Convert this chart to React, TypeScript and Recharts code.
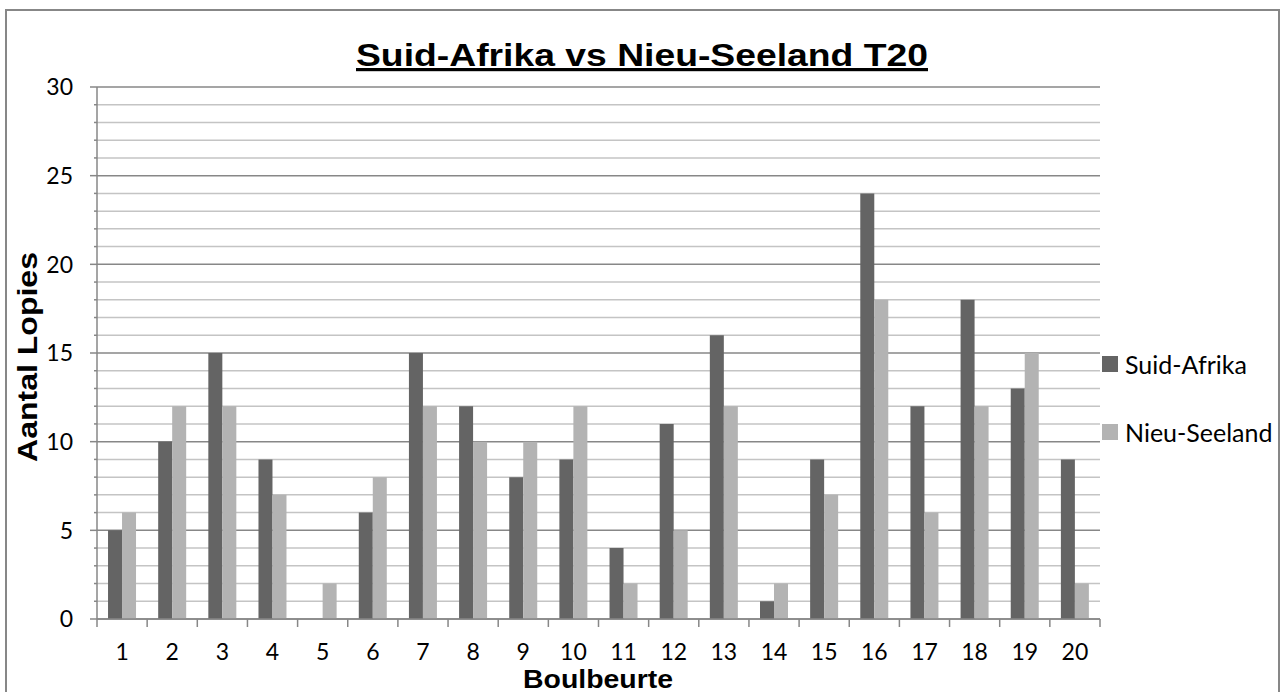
import React from "react";
import { BarChart, Bar, XAxis, YAxis, CartesianGrid } from "recharts";

const OVERS = ["1", "2", "3", "4", "5", "6", "7", "8", "9", "10", "11", "12", "13", "14", "15", "16", "17", "18", "19", "20"];
const SUID_AFRIKA = [5, 10, 15, 9, 0, 6, 15, 12, 8, 9, 4, 11, 16, 1, 9, 24, 12, 18, 13, 9];
const NIEU_SEELAND = [6, 12, 12, 7, 2, 8, 12, 10, 10, 12, 2, 5, 12, 2, 7, 18, 6, 12, 15, 2];
const Y_TICKS = [0, 1, 2, 3, 4, 5, 6, 7, 8, 9, 10, 11, 12, 13, 14, 15, 16, 17, 18, 19, 20, 21, 22, 23, 24, 25, 26, 27, 28, 29, 30];
const MAJOR_STEP = 5;

const SERIES = [
  { key: "sa", name: "Suid-Afrika", color: "#646464" },
  { key: "nz", name: "Nieu-Seeland", color: "#b3b3b3" },
];

const data = OVERS.map((over, i) => ({ over, sa: SUID_AFRIKA[i], nz: NIEU_SEELAND[i] }));

const AXIS = "#878787";
const MINOR = "#c4c4c4";
const boldFont = "'Liberation Sans', Arial, sans-serif";

function GridLine(props: any) {
  const { x1, x2, y1, y2, index } = props;
  const major = index % MAJOR_STEP === 0;
  return <line x1={x1} x2={x2} y1={y1} y2={y2} stroke={major ? AXIS : MINOR} strokeWidth={1.5} />;
}

function YTick(props: any) {
  const { x, y, payload } = props;
  const major = payload.value % MAJOR_STEP === 0;
  return (
    <g>
      <line x1={x - (major ? 7 : 3)} x2={x} y1={y} y2={y} stroke={AXIS} strokeWidth={1.5} />
      {major && (
        <text x={x - 24} y={y} dy="0.36em" textAnchor="end" fontFamily="Lato" fontSize={23} fill="#000">
          {payload.value}
        </text>
      )}
    </g>
  );
}

function XTick(props: any) {
  const { x, y, payload, index } = props;
  const half = payload.offset || 0;
  return (
    <g>
      <line x1={x - half} x2={x - half} y1={y} y2={y + 8} stroke={AXIS} strokeWidth={1.5} />
      {index === OVERS.length - 1 && (
        <line x1={x + half} x2={x + half} y1={y} y2={y + 8} stroke={AXIS} strokeWidth={1.5} />
      )}
      <text x={x} y={y + 41} textAnchor="middle" fontFamily="Lato" fontSize={23} fill="#000">
        {payload.value}
      </text>
    </g>
  );
}

export default function App() {
  return (
    <div style={{ position: "absolute", left: 0, top: 0, width: 1284, height: 692, background: "#fff", overflow: "hidden" }}>
      <div style={{ position: "absolute", left: 5, top: 9, width: 1271, height: 720, border: `2px solid ${AXIS}` }} />
      <BarChart
        width={1284}
        height={692}
        data={data}
        margin={{ top: 87, right: 184, bottom: 33, left: 37 }}
        barCategoryGap="22%"
        barGap={0}
        style={{ position: "absolute", left: 0, top: 0 }}
      >
        <CartesianGrid vertical={false} horizontal={GridLine} />
        <XAxis
          dataKey="over"
          height={40}
          tickSize={0}
          tickMargin={0}
          axisLine={{ stroke: AXIS, strokeWidth: 1.5 }}
          tickLine={false}
          tick={XTick}
          interval={0}
        />
        <YAxis
          domain={[0, 30]}
          ticks={Y_TICKS}
          interval={0}
          width={60}
          tickSize={0}
          tickMargin={0}
          tick={YTick}
          axisLine={{ stroke: AXIS, strokeWidth: 1.5 }}
          tickLine={false}
        />
        {SERIES.map((s) => (
          <Bar key={s.key} dataKey={s.key} name={s.name} fill={s.color} isAnimationActive={false} />
        ))}
      </BarChart>
      <svg width={1284} height={692} style={{ position: "absolute", left: 0, top: 0, pointerEvents: "none" }}>
        <text
          x={642}
          y={66}
          textAnchor="middle"
          fontFamily={boldFont}
          fontWeight="bold"
          fontSize={32}
          textLength={572}
          lengthAdjust="spacingAndGlyphs"
          style={{ textDecoration: "underline" }}
        >
          Suid-Afrika vs Nieu-Seeland T20
        </text>
        <text
          transform="translate(37,357) rotate(-90)"
          textAnchor="middle"
          fontFamily={boldFont}
          fontWeight="bold"
          fontSize={28}
          textLength={210}
          lengthAdjust="spacingAndGlyphs"
        >
          Aantal Lopies
        </text>
        <text
          x={598}
          y={688}
          textAnchor="middle"
          fontFamily={boldFont}
          fontWeight="bold"
          fontSize={25}
          textLength={150}
          lengthAdjust="spacingAndGlyphs"
        >
          Boulbeurte
        </text>
      </svg>
      <div style={{ position: "absolute", left: 1102, top: 345, fontFamily: "Lato", fontSize: 25, color: "#000" }}>
        {SERIES.map((s) => (
          <div key={s.key} style={{ display: "flex", alignItems: "center", height: 38, marginBottom: 30 }}>
            <span style={{ display: "inline-block", width: 16, height: 16, background: s.color, marginRight: 7 }} />
            <span>{s.name}</span>
          </div>
        ))}
      </div>
    </div>
  );
}
